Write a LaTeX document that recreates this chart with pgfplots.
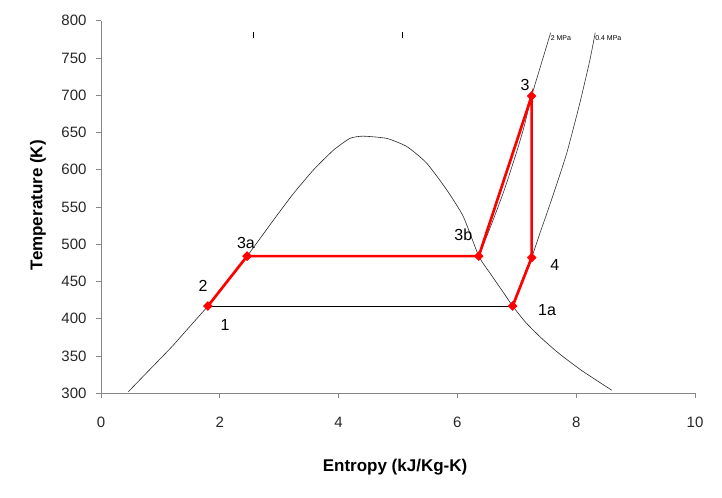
\documentclass[border=0pt]{standalone}
\usepackage{fontspec}
\setmainfont{Liberation Sans}
\usepackage{pgfplots}
\pgfplotsset{compat=1.18}
\definecolor{axgray}{HTML}{868686}
\definecolor{cyc}{HTML}{FF0000}
\begin{document}
\begin{tikzpicture}
\begin{axis}[
 at={(0,0)}, anchor=south west,
 scale only axis, width=594bp, height=372.5bp,
 xmin=0, xmax=10, ymin=300, ymax=800,
 axis lines*=left,
 axis line style={axgray, line width=0.8pt, -},
 xtick={0,2,...,10}, ytick={300,350,...,800},
 tick align=outside, major tick length=5bp,
 tick style={axgray, line width=0.8pt},
 /pgf/number format/assume math mode=true,
 ticklabel style={font=\fontsize{15bp}{17bp}\selectfont, text=black!85},
 xticklabel style={yshift=-15bp},
 yticklabel style={xshift=-6bp},
 xlabel={Entropy (kJ/Kg-K)}, ylabel={Temperature (K)},
 label style={font=\bfseries\fontsize{17bp}{19bp}\selectfont},
 xlabel style={at={(axis description cs:0.495,-0.199)}, anchor=center},
 ylabel style={at={(axis description cs:-0.106,0.505)}, anchor=center},
 clip=false,
]
% saturation dome
\addplot[black!85, line width=0.6pt, smooth, tension=0.35] coordinates {
(0.46,302) (0.80,330) (1.20,363) (1.50,390) (1.80,417) (2.10,448) (2.46,484)
(2.90,532) (3.24,568) (3.58,600) (3.91,626) (4.19,642) (4.41,645) (4.81,642)
(5.15,631) (5.48,609) (5.82,573) (6.10,537) (6.36,484) (6.55,461) (6.75,438)
(6.93,417) (7.15,395) (7.40,375) (7.70,354) (8.10,330) (8.60,304)};
% 2 MPa isobar
\addplot[black!80, line width=0.6pt, smooth, tension=0.35] coordinates {
(6.36,484) (6.58,528) (6.79,573) (6.99,622) (7.12,657) (7.25,699) (7.40,739) (7.57,784)};
% 0.4 MPa isobar
\addplot[black!80, line width=0.6pt, smooth, tension=0.35] coordinates {
(6.93,417) (7.09,450) (7.25,482) (7.39,515) (7.50,540) (7.62,568) (7.84,622)
(8.06,689) (8.23,747) (8.32,784)};
% condensation line
\addplot[black, line width=0.6pt] coordinates {(1.80,417) (6.93,417)};
% small marks at top
\addplot[black, line width=0.8pt] coordinates {(2.56,777) (2.56,785)};
\addplot[black, line width=0.8pt] coordinates {(5.07,777) (5.07,785)};
% cycle
\addplot[cyc, line width=2.7pt, mark=square*, mark size=3.2pt,
 mark options={fill=cyc, draw=cyc, line width=0.4pt, rotate=45}] coordinates {
(1.80,417) (2.46,484) (6.36,484) (7.25,699) (7.25,482) (6.93,417)};
% labels
\node[font=\fontsize{7bp}{8bp}\selectfont, anchor=west, inner sep=0.5bp] at (axis cs:7.56,777) {2 MPa};
\node[font=\fontsize{7bp}{8bp}\selectfont, anchor=west, inner sep=0.5bp] at (axis cs:8.31,777) {0.4 MPa};
\node[font=\fontsize{16bp}{18bp}\selectfont] at (axis cs:2.09,391) {1};
\node[font=\fontsize{16bp}{18bp}\selectfont] at (axis cs:1.72,444) {2};
\node[font=\fontsize{16bp}{18bp}\selectfont] at (axis cs:2.44,502) {3a};
\node[font=\fontsize{16bp}{18bp}\selectfont] at (axis cs:6.10,512) {3b};
\node[font=\fontsize{16bp}{18bp}\selectfont] at (axis cs:7.14,714) {3};
\node[font=\fontsize{16bp}{18bp}\selectfont] at (axis cs:7.64,472) {4};
\node[font=\fontsize{16bp}{18bp}\selectfont] at (axis cs:7.51,411) {1a};
\end{axis}
\pgfresetboundingbox
\useasboundingbox (-101bp,-104bp) rectangle (621bp,393.2bp);
\end{tikzpicture}
\end{document}
